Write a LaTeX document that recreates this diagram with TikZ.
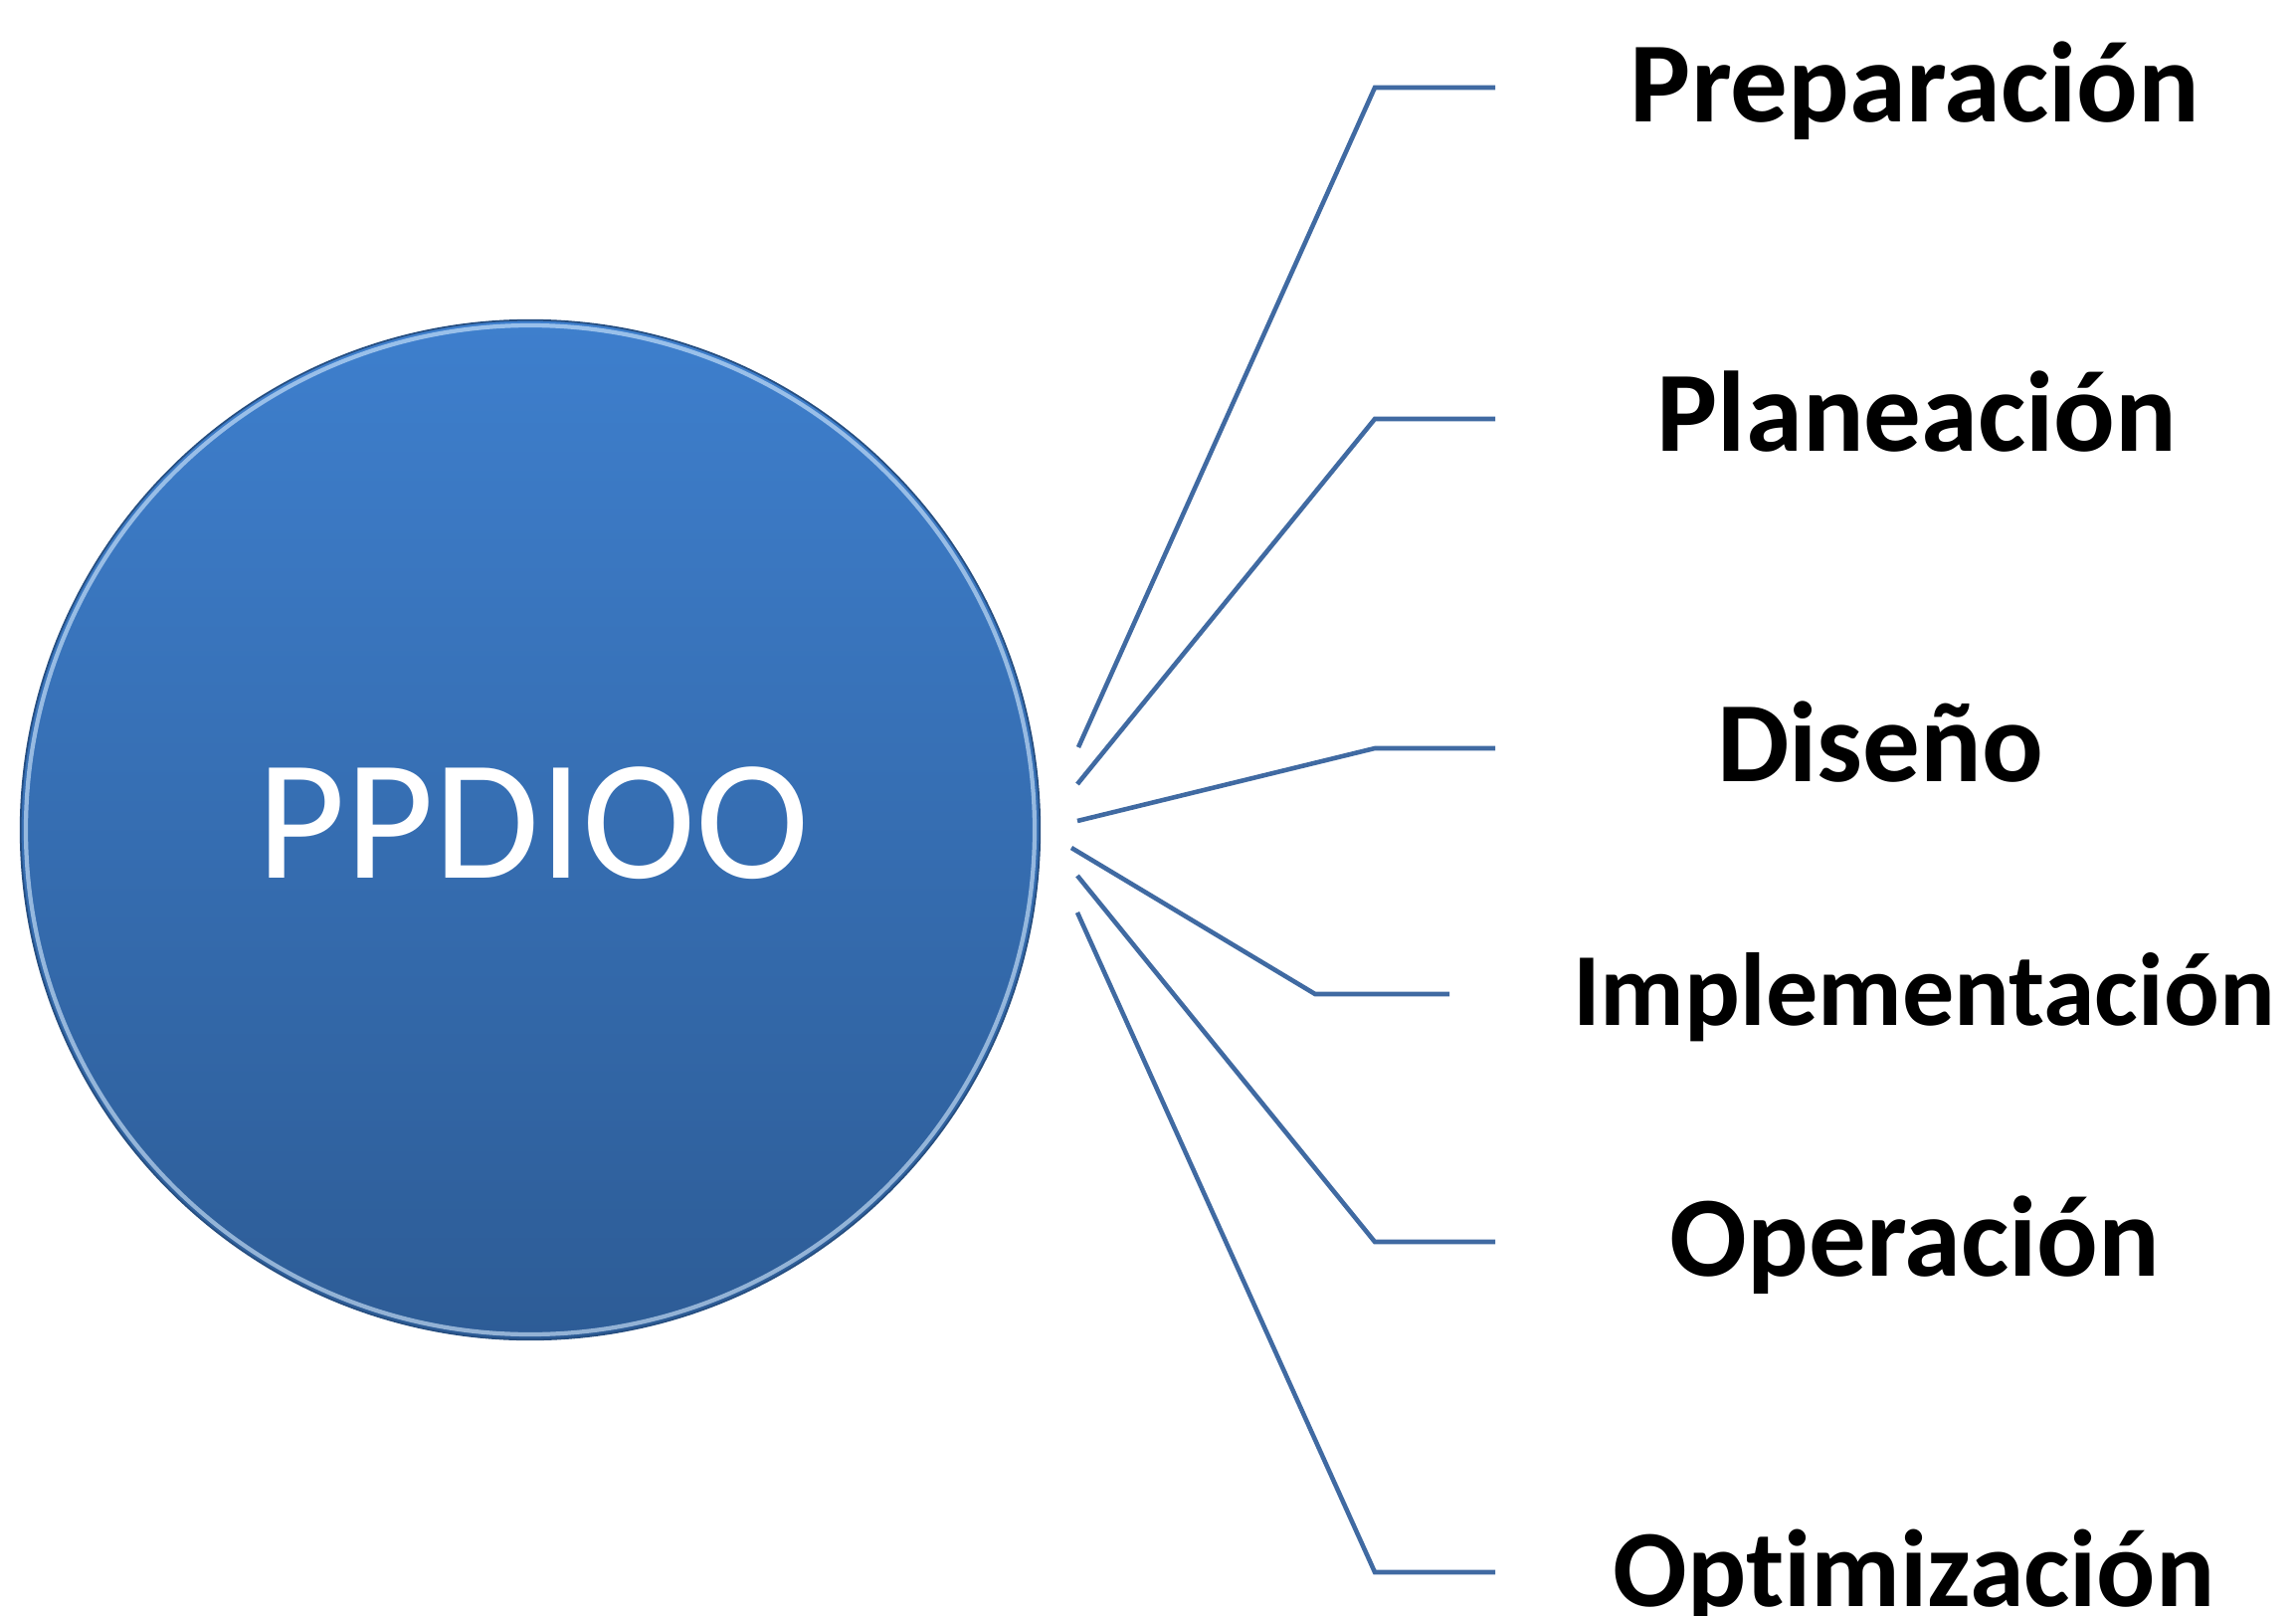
\documentclass[tikz,border=0pt]{standalone}
\usepackage{fontspec}
\setmainfont[Ligatures=CommonOff]{Carlito}
\definecolor{linec}{RGB}{64,106,162}
\definecolor{topc}{RGB}{62,127,205}
\definecolor{botc}{RGB}{45,92,150}
\definecolor{rimc}{RGB}{215,236,255}
\begin{document}
\begin{tikzpicture}[x=0.01cm,y=-0.01cm,
  conn/.style={draw=linec,line width=1.3pt,line join=miter},
  lbl/.style={anchor=base,inner sep=0pt,font=\fontsize{32.7}{36}\selectfont\bfseries,text=black},
  hub/.style={circle,inner sep=0pt,minimum size=10.24cm,top color=topc,bottom color=botc,draw=botc!85!black,line width=0.5pt}]
\useasboundingbox[fill=white] (0,0) rectangle (2308,1624);
% central circle
\node[hub] (c) at (533,834) {};
\draw[rimc,line width=1.2pt,opacity=0.6] (533,834) circle[radius=507];
\node[anchor=base,inner sep=0pt,text=white,font=\fontsize{49}{54}\selectfont] (t) at (536,882) {PPDIOO};
% connector points
\coordinate (s1) at (1084,751); \coordinate (b1) at (1382,88);   \coordinate (e1) at (1503,88);
\coordinate (s2) at (1083,788); \coordinate (b2) at (1382,421);  \coordinate (e2) at (1503,421);
\coordinate (s3) at (1083,825); \coordinate (b3) at (1382,752);  \coordinate (e3) at (1503,752);
\coordinate (s4) at (1077,852); \coordinate (b4) at (1322,999);  \coordinate (e4) at (1457,999);
\coordinate (s5) at (1083,880); \coordinate (b5) at (1382,1248); \coordinate (e5) at (1503,1248);
\coordinate (s6) at (1083,917); \coordinate (b6) at (1382,1580); \coordinate (e6) at (1503,1580);
\foreach \i in {1,...,6}{\draw[conn] (s\i) -- (b\i) -- (e\i);}
% labels
\node[lbl] (l1) at (1925,122) {Preparación};
\node[lbl] (l2) at (1927,453) {Planeación};
\node[lbl] (l3) at (1890,785) {Diseño};
\node[lbl,font=\fontsize{29.6}{33}\selectfont\bfseries] (l4) at (1934,1030) {Implementación};
\node[lbl] (l5) at (1925,1282) {Operación};
\node[lbl,font=\fontsize{31.4}{35}\selectfont\bfseries] (l6) at (1924,1614) {Optimización};
\end{tikzpicture}
\end{document}
